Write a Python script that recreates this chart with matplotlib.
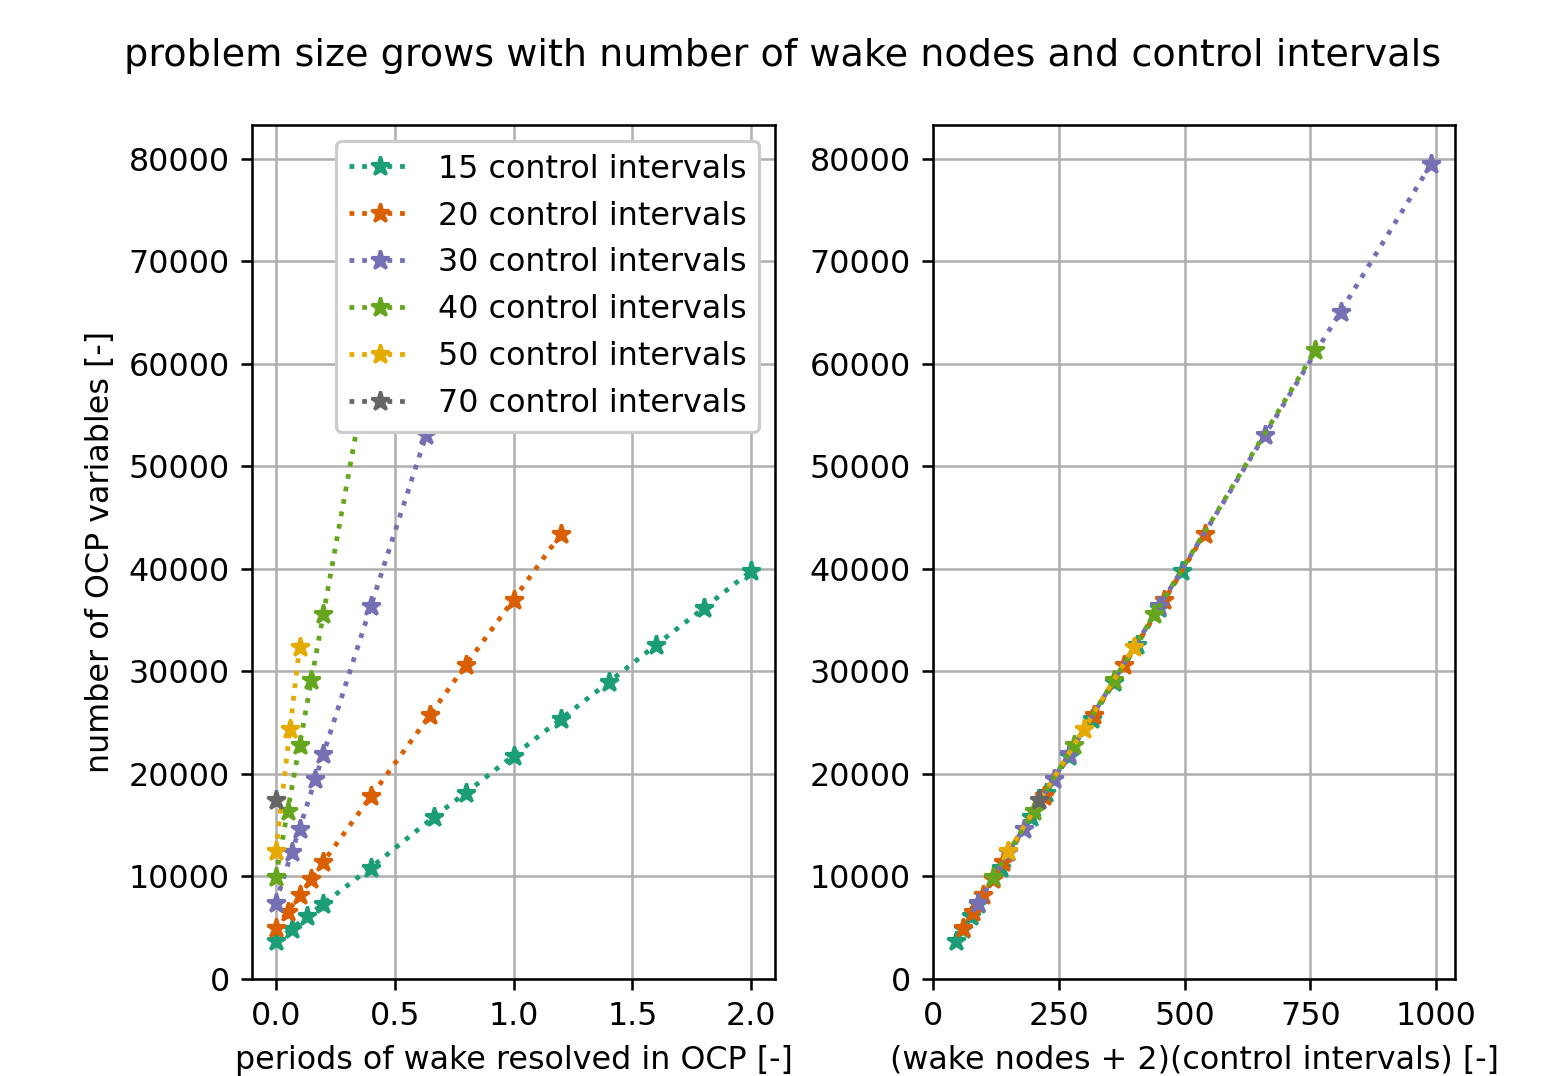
import matplotlib
matplotlib.use("Agg")
import matplotlib.pyplot as plt

# control intervals per series
intervals = [15, 20, 30, 40, 50, 70]

# periods of wake resolved in OCP [-]
periods_15 = [0.0, 0.0667, 0.1333, 0.2, 0.4, 0.6667, 0.8, 1.0, 1.2, 1.4, 1.6, 1.8, 2.0]
periods_20 = [0.0, 0.05, 0.1, 0.15, 0.2, 0.4, 0.65, 0.8, 1.0, 1.2]
periods_30 = [0.0, 0.0667, 0.1, 0.1667, 0.2, 0.4, 0.6333, 0.8, 1.0]
periods_40 = [0.0, 0.05, 0.1, 0.15, 0.2, 0.4]
periods_50 = [0.0, 0.06, 0.1]
periods_70 = [0.0]

# (wake nodes + 2)(control intervals) [-]
size_15 = [45, 60, 75, 90, 135, 195, 225, 270, 315, 360, 405, 450, 495]
size_20 = [60, 80, 100, 120, 140, 220, 320, 380, 460, 540]
size_30 = [90, 150, 180, 240, 270, 450, 660, 810, 990]
size_40 = [120, 200, 280, 360, 440, 760]
size_50 = [150, 300, 400]
size_70 = [210]

# number of OCP variables [-]
nvars_15 = [3700, 4900, 6150, 7330, 10870, 15840, 18170, 21780, 25370, 28940, 32590, 36160, 39800]
nvars_20 = [4970, 6560, 8180, 9760, 11420, 17800, 25790, 30650, 37000, 43420]
nvars_30 = [7440, 12340, 14670, 19530, 21920, 36370, 53100, 65100, 79500]
nvars_40 = [9950, 16400, 22800, 29180, 35560, 61300]
nvars_50 = [12450, 24390, 32420]
nvars_70 = [17430]

periods = [periods_15, periods_20, periods_30, periods_40, periods_50, periods_70]
sizes = [size_15, size_20, size_30, size_40, size_50, size_70]
nvars = [nvars_15, nvars_20, nvars_30, nvars_40, nvars_50, nvars_70]

# Dark2, skipping the pink and olive entries
colors = ["#1b9e77", "#d95f02", "#7570b3", "#66a61e", "#e6ab02", "#666666"]

DPI = 229
fig = plt.figure(figsize=(1546 / DPI, 1076 / DPI), dpi=DPI)
ax1 = fig.add_axes([252 / 1546, 1 - 979 / 1076, 523 / 1546, 854 / 1076])
ax2 = fig.add_axes([933 / 1546, 1 - 979 / 1076, 522 / 1546, 854 / 1076])

for i, n in enumerate(intervals):
    ax1.plot(periods[i], nvars[i], "*:", color=colors[i], label=f"{n} control intervals")
    ax2.plot(sizes[i], nvars[i], "*:", color=colors[i])

ax1.set_ylim(bottom=0)
ax2.set_ylim(bottom=0)
ax2.set_xlim(left=0)

ax1.grid()
ax2.grid()
ax1.set_xlabel("periods of wake resolved in OCP [-]")
ax1.set_ylabel("number of OCP variables [-]")
ax2.set_xlabel("(wake nodes + 2)(control intervals) [-]")
ax1.legend(loc="upper right", framealpha=1)

fig.suptitle("problem size grows with number of wake nodes and control intervals",
             fontsize=12, x=0.506, y=1 - 38 / 1076, va="top")

fig.savefig("out.png", dpi=DPI)
